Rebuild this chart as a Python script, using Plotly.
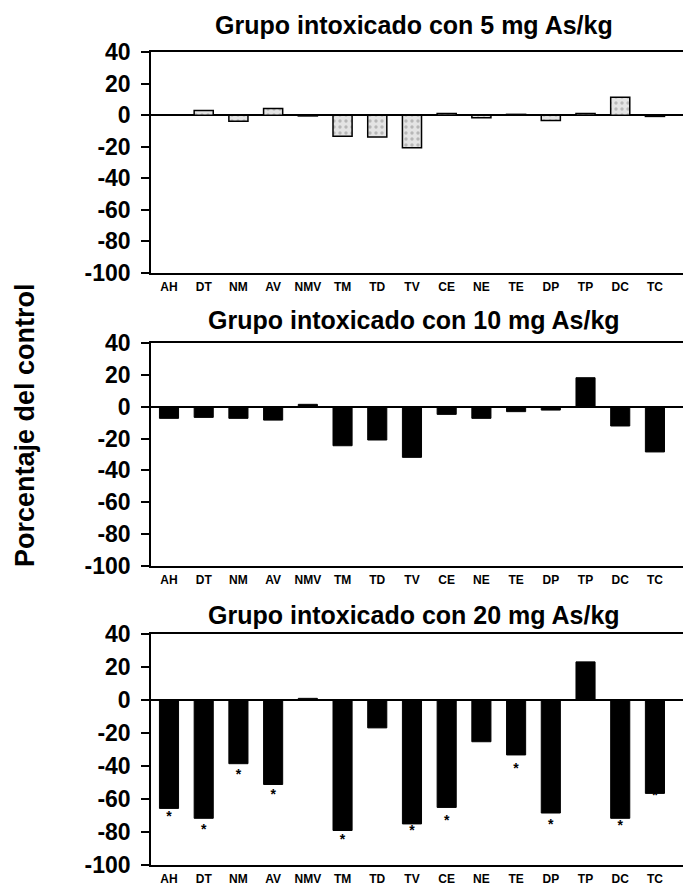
import plotly.graph_objects as go

categories = ["AH", "DT", "NM", "AV", "NMV", "TM", "TD", "TV", "CE", "NE", "TE", "DP", "TP", "DC", "TC"]

values_5mg = [0.0, 3.0, -3.8, 4.2, -0.5, -13.3, -13.9, -20.7, 1.0, -1.7, 0.5, -3.4, 1.0, 11.4, -0.8]
values_10mg = [-7.3, -6.7, -7.3, -8.4, 1.5, -24.5, -20.9, -31.8, -4.8, -7.3, -3.1, -2.1, 18.2, -12.1, -28.4]
values_20mg = [-65.7, -71.7, -38.6, -51.2, 1.0, -79.1, -16.9, -75.1, -65.1, -25.3, -33.3, -68.5, 23.1, -71.7, -56.6]

# significance asterisks (20 mg group): category and vertical position
star_categories = ["AH", "DT", "NM", "AV", "TM", "TV", "CE", "TE", "DP", "DC", "TC"]
star_y = [-71.5, -79.0, -45.6, -58.0, -85.0, -79.6, -73.8, -42.1, -76.2, -76.8, -58.2]

titles = ["Grupo intoxicado con 5 mg As/kg",
          "Grupo intoxicado con 10 mg As/kg",
          "Grupo intoxicado con 20 mg As/kg"]
y_title = "Porcentaje del control"
y_ticks = [40, 20, 0, -20, -40, -60, -80, -100]

W, H = 683, 889
L = 151
FONT = "Liberation Sans, Arial, sans-serif"

# panel pixel extents (top, bottom)
panels_px = [(52, 273), (343, 566), (634, 865)]
title_px = [25, 320, 615]

fig = go.Figure()

bar_w = 0.55
fig.add_trace(go.Bar(
    x=categories, y=values_5mg, width=bar_w,
    marker=dict(color="#e4e4e4", line=dict(color="black", width=1.5),
                pattern=dict(shape=".", fgcolor="#8a8a8a", bgcolor="#e4e4e4", size=6, solidity=0.25)),
    xaxis="x", yaxis="y", showlegend=False))
fig.add_trace(go.Bar(
    x=categories, y=values_10mg, width=bar_w,
    marker=dict(color="black", line=dict(color="black", width=1)),
    xaxis="x2", yaxis="y2", showlegend=False))
fig.add_trace(go.Bar(
    x=categories, y=values_20mg, width=bar_w,
    marker=dict(color="black", line=dict(color="black", width=1)),
    xaxis="x3", yaxis="y3", showlegend=False))
fig.add_trace(go.Scatter(
    x=star_categories, y=star_y, mode="text", text=["*"] * len(star_categories),
    textposition="middle center",
    textfont=dict(family=FONT, size=14, color="black", weight="bold"),
    xaxis="x3", yaxis="y3", showlegend=False, cliponaxis=False))

x0 = (L - 169) / 34.71
x1 = (W - 169) / 34.71

layout = dict(
    width=W, height=H,
    margin=dict(l=L, r=0, t=0, b=0, autoexpand=False),
    paper_bgcolor="white", plot_bgcolor="white",
    bargap=0.45,
)

for i, (top, bot) in enumerate(panels_px):
    sfx = "" if i == 0 else str(i + 1)
    dom = [1 - bot / H, 1 - top / H]
    layout["xaxis" + sfx] = dict(
        domain=[0, 1], anchor="y" + sfx, type="category",
        categoryorder="array", categoryarray=categories,
        range=[x0, x1], showline=True, linecolor="black", linewidth=1.5,
        mirror=True, ticks="", showgrid=False, zeroline=False,
        tickfont=dict(family=FONT, size=12, color="black", weight="bold"),
        ticklabelstandoff=2, automargin=False,
    )
    layout["yaxis" + sfx] = dict(
        domain=dom, anchor="x" + sfx, range=[-100, 40],
        tickvals=y_ticks, ticktext=[str(v) for v in y_ticks],
        ticks="outside", ticklen=8, tickwidth=1.5, tickcolor="black",
        showline=True, linecolor="black", linewidth=1.5,
        showgrid=False, zeroline=True, zerolinecolor="black", zerolinewidth=1.5,
        tickfont=dict(family=FONT, size=23, color="black", weight="bold"),
        ticklabelstandoff=6, automargin=False,
    )

annotations = []
for t, ypx in zip(titles, title_px):
    annotations.append(dict(
        text=t, xref="paper", yref="paper", x=(414 - L) / (W - L), y=1 - ypx / H,
        xanchor="center", yanchor="middle", showarrow=False,
        font=dict(family=FONT, size=25, color="black", weight="bold")))
annotations.append(dict(
    text=y_title, xref="paper", yref="paper", x=(25 - L) / (W - L), y=1 - 425 / H,
    xanchor="center", yanchor="middle", showarrow=False, textangle=-90,
    font=dict(family=FONT, size=27, color="black", weight="bold")))
layout["annotations"] = annotations

fig.update_layout(**layout)
fig.write_html(
    "out.html",
    config={"displayModeBar": False},
    post_script="document.body.style.margin='0';document.body.style.overflow='hidden';",
)
